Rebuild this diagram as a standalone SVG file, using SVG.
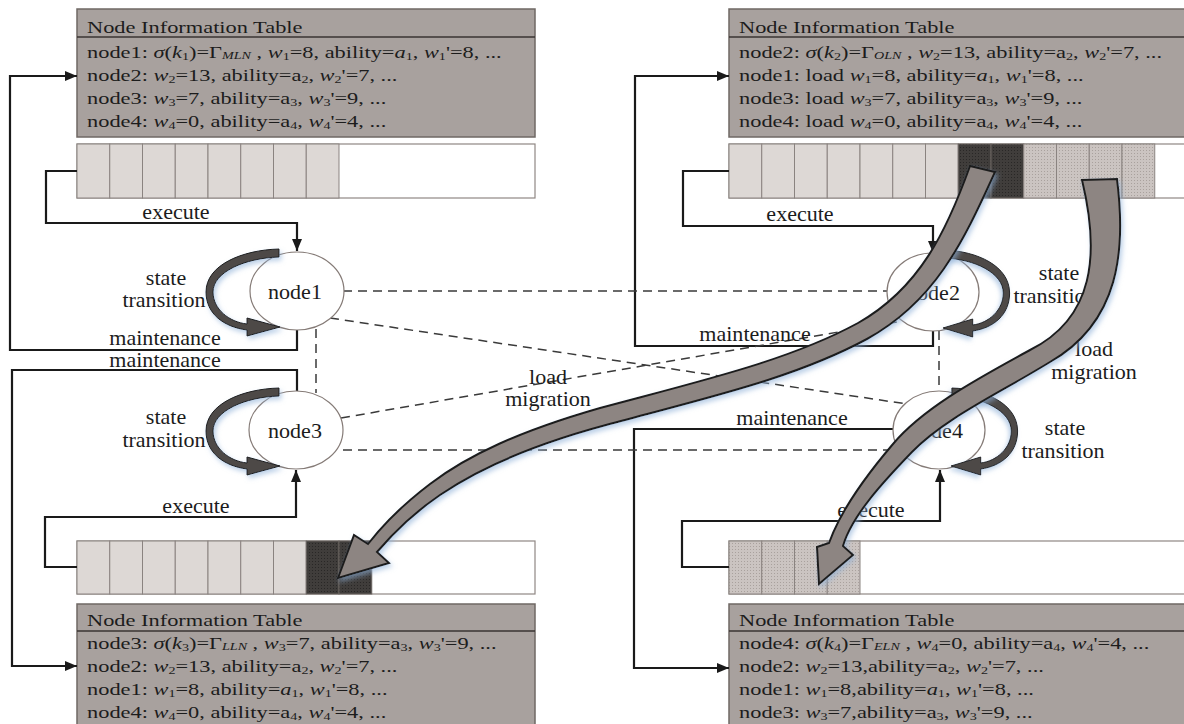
<svg xmlns="http://www.w3.org/2000/svg" width="1184" height="724" viewBox="0 0 1184 724">
<style>
.tt{font-family:"Liberation Serif","Times New Roman",serif;font-size:17.5px;fill:#1c1c1c}
.i{font-style:italic}
.s{font-size:11px}
.lb{font-family:"Liberation Serif","Times New Roman",serif;font-size:21px;fill:#1c1c1c;text-anchor:middle}
.tbl{fill:#a8a19e;stroke:#6f6864;stroke-width:1.5}
.hl{stroke:#3a3532;stroke-width:1.5}
.q{fill:#fff;stroke:#8f8784;stroke-width:1.2}
.cl{fill:#ddd8d5;stroke:#8a8380;stroke-width:1}
.cd{fill:url(#dk);stroke:#6a6461;stroke-width:1}
.cp{fill:url(#dt);stroke:#8a8380;stroke-width:1}
.con{fill:none;stroke:#1a1a1a;stroke-width:2.2}
.ds{fill:none;stroke:#3a3a3a;stroke-width:1.5;stroke-dasharray:9 6}
.nd{fill:#fff;stroke:#857b77;stroke-width:1.2}
.st{fill:#4d4947;stroke:#1e1e1e;stroke-width:1;filter:url(#sh)}
.mg{fill:#8d8582;stroke:#1e1e1e;stroke-width:2;filter:url(#sh)}
</style>
<defs>
<pattern id="dk" width="3" height="3" patternUnits="userSpaceOnUse"><rect width="3" height="3" fill="#403d3b"/><rect width="1" height="1" fill="#292726"/></pattern>
<pattern id="dt" width="3" height="3" patternUnits="userSpaceOnUse"><rect width="3" height="3" fill="#cbc4c1"/><rect width="1" height="1" fill="#a9a19d"/></pattern>
<marker id="ah" viewBox="0 0 12 10" refX="12" refY="5" markerWidth="12" markerHeight="10" markerUnits="userSpaceOnUse" orient="auto"><path d="M0,0 L12,5 L0,10 z" fill="#1a1a1a"/></marker>
<filter id="sh" x="-20%" y="-20%" width="140%" height="140%"><feDropShadow dx="2" dy="3" stdDeviation="2.5" flood-color="#8fb0d8" flood-opacity="0.6"/></filter>
<path id="cres" d="M279,249 C242,250 206,265 206,292 C206,314 224,327 247,330 L247,336 L280,327 L247,318 L247,324 C229,322 213,309 213,292 C213,272 245,258 279,257 Z"/>
</defs>
<rect width="1184" height="724" fill="#fff"/>

<g id="table1">
<rect class="tbl" x="77" y="9" width="458" height="128"/>
<line class="hl" x1="77" y1="37" x2="535" y2="37"/>
<text class="tt" transform="translate(87,33) scale(1.28,1)">Node Information Table</text>
<text class="tt" transform="translate(87,58) scale(1.28,1)">node1: <tspan class="i">σ</tspan>(<tspan class="i">k</tspan><tspan class="s" dy="2">1</tspan><tspan dy="-2">)=Γ</tspan><tspan class="s i" dy="1">MLN</tspan><tspan dy="-1"> , </tspan><tspan class="i">w</tspan><tspan class="s" dy="2">1</tspan><tspan dy="-2">=8, ability=</tspan><tspan class="i">a</tspan><tspan class="s" dy="2">1</tspan><tspan dy="-2">, </tspan><tspan class="i">w</tspan><tspan class="s" dy="2">1</tspan><tspan dy="-2">'=8, ...</tspan></text>
<text class="tt" transform="translate(87,81) scale(1.28,1)">node2: <tspan class="i">w</tspan><tspan class="s" dy="2">2</tspan><tspan dy="-2">=13, ability=a</tspan><tspan class="s" dy="2">2</tspan><tspan dy="-2">, </tspan><tspan class="i">w</tspan><tspan class="s" dy="2">2</tspan><tspan dy="-2">'=7, ...</tspan></text>
<text class="tt" transform="translate(87,104) scale(1.28,1)">node3: <tspan class="i">w</tspan><tspan class="s" dy="2">3</tspan><tspan dy="-2">=7, ability=a</tspan><tspan class="s" dy="2">3</tspan><tspan dy="-2">, </tspan><tspan class="i">w</tspan><tspan class="s" dy="2">3</tspan><tspan dy="-2">'=9, ...</tspan></text>
<text class="tt" transform="translate(87,127) scale(1.28,1)">node4: <tspan class="i">w</tspan><tspan class="s" dy="2">4</tspan><tspan dy="-2">=0, ability=a</tspan><tspan class="s" dy="2">4</tspan><tspan dy="-2">, </tspan><tspan class="i">w</tspan><tspan class="s" dy="2">4</tspan><tspan dy="-2">'=4, ...</tspan></text>
</g>

<g id="table2">
<rect class="tbl" x="729" y="9" width="458" height="128"/>
<line class="hl" x1="729" y1="37" x2="1187" y2="37"/>
<text class="tt" transform="translate(739,33) scale(1.28,1)">Node Information Table</text>
<text class="tt" transform="translate(739,58) scale(1.28,1)">node2: <tspan class="i">σ</tspan>(<tspan class="i">k</tspan><tspan class="s" dy="2">2</tspan><tspan dy="-2">)=Γ</tspan><tspan class="s i" dy="1">OLN</tspan><tspan dy="-1"> , </tspan><tspan class="i">w</tspan><tspan class="s" dy="2">2</tspan><tspan dy="-2">=13, ability=a</tspan><tspan class="s" dy="2">2</tspan><tspan dy="-2">, </tspan><tspan class="i">w</tspan><tspan class="s" dy="2">2</tspan><tspan dy="-2">'=7, ...</tspan></text>
<text class="tt" transform="translate(739,81) scale(1.28,1)">node1: load <tspan class="i">w</tspan><tspan class="s" dy="2">1</tspan><tspan dy="-2">=8, ability=</tspan><tspan class="i">a</tspan><tspan class="s" dy="2">1</tspan><tspan dy="-2">, </tspan><tspan class="i">w</tspan><tspan class="s" dy="2">1</tspan><tspan dy="-2">'=8, ...</tspan></text>
<text class="tt" transform="translate(739,104) scale(1.28,1)">node3: load <tspan class="i">w</tspan><tspan class="s" dy="2">3</tspan><tspan dy="-2">=7, ability=a</tspan><tspan class="s" dy="2">3</tspan><tspan dy="-2">, </tspan><tspan class="i">w</tspan><tspan class="s" dy="2">3</tspan><tspan dy="-2">'=9, ...</tspan></text>
<text class="tt" transform="translate(739,127) scale(1.28,1)">node4: load <tspan class="i">w</tspan><tspan class="s" dy="2">4</tspan><tspan dy="-2">=0, ability=a</tspan><tspan class="s" dy="2">4</tspan><tspan dy="-2">, </tspan><tspan class="i">w</tspan><tspan class="s" dy="2">4</tspan><tspan dy="-2">'=4, ...</tspan></text>
</g>

<g id="table3">
<rect class="tbl" x="77" y="604" width="458" height="130"/>
<line class="hl" x1="77" y1="631" x2="535" y2="631"/>
<text class="tt" transform="translate(87,626) scale(1.28,1)">Node Information Table</text>
<text class="tt" transform="translate(87,649) scale(1.28,1)">node3: <tspan class="i">σ</tspan>(<tspan class="i">k</tspan><tspan class="s" dy="2">3</tspan><tspan dy="-2">)=Γ</tspan><tspan class="s i" dy="1">LLN</tspan><tspan dy="-1"> ,  </tspan><tspan class="i">w</tspan><tspan class="s" dy="2">3</tspan><tspan dy="-2">=7, ability=a</tspan><tspan class="s" dy="2">3</tspan><tspan dy="-2">, </tspan><tspan class="i">w</tspan><tspan class="s" dy="2">3</tspan><tspan dy="-2">'=9, ...</tspan></text>
<text class="tt" transform="translate(87,672) scale(1.28,1)">node2: <tspan class="i">w</tspan><tspan class="s" dy="2">2</tspan><tspan dy="-2">=13, ability=a</tspan><tspan class="s" dy="2">2</tspan><tspan dy="-2">, </tspan><tspan class="i">w</tspan><tspan class="s" dy="2">2</tspan><tspan dy="-2">'=7, ...</tspan></text>
<text class="tt" transform="translate(87,695) scale(1.28,1)">node1: <tspan class="i">w</tspan><tspan class="s" dy="2">1</tspan><tspan dy="-2">=8, ability=</tspan><tspan class="i">a</tspan><tspan class="s" dy="2">1</tspan><tspan dy="-2">, </tspan><tspan class="i">w</tspan><tspan class="s" dy="2">1</tspan><tspan dy="-2">'=8, ...</tspan></text>
<text class="tt" transform="translate(87,718) scale(1.28,1)">node4: <tspan class="i">w</tspan><tspan class="s" dy="2">4</tspan><tspan dy="-2">=0, ability=a</tspan><tspan class="s" dy="2">4</tspan><tspan dy="-2">, </tspan><tspan class="i">w</tspan><tspan class="s" dy="2">4</tspan><tspan dy="-2">'=4, ...</tspan></text>
</g>

<g id="table4">
<rect class="tbl" x="729" y="604" width="458" height="130"/>
<line class="hl" x1="729" y1="631" x2="1187" y2="631"/>
<text class="tt" transform="translate(739,626) scale(1.28,1)">Node Information Table</text>
<text class="tt" transform="translate(739,649) scale(1.28,1)">node4: <tspan class="i">σ</tspan>(<tspan class="i">k</tspan><tspan class="s" dy="2">4</tspan><tspan dy="-2">)=Γ</tspan><tspan class="s i" dy="1">ELN</tspan><tspan dy="-1"> ,  </tspan><tspan class="i">w</tspan><tspan class="s" dy="2">4</tspan><tspan dy="-2">=0, ability=a</tspan><tspan class="s" dy="2">4</tspan><tspan dy="-2">, </tspan><tspan class="i">w</tspan><tspan class="s" dy="2">4</tspan><tspan dy="-2">'=4, ...</tspan></text>
<text class="tt" transform="translate(739,672) scale(1.28,1)">node2: <tspan class="i">w</tspan><tspan class="s" dy="2">2</tspan><tspan dy="-2">=13,ability=a</tspan><tspan class="s" dy="2">2</tspan><tspan dy="-2">, </tspan><tspan class="i">w</tspan><tspan class="s" dy="2">2</tspan><tspan dy="-2">'=7, ...</tspan></text>
<text class="tt" transform="translate(739,695) scale(1.28,1)">node1: <tspan class="i">w</tspan><tspan class="s" dy="2">1</tspan><tspan dy="-2">=8,ability=</tspan><tspan class="i">a</tspan><tspan class="s" dy="2">1</tspan><tspan dy="-2">, </tspan><tspan class="i">w</tspan><tspan class="s" dy="2">1</tspan><tspan dy="-2">'=8, ...</tspan></text>
<text class="tt" transform="translate(739,718) scale(1.28,1)">node3: <tspan class="i">w</tspan><tspan class="s" dy="2">3</tspan><tspan dy="-2">=7,ability=a</tspan><tspan class="s" dy="2">3</tspan><tspan dy="-2">, </tspan><tspan class="i">w</tspan><tspan class="s" dy="2">3</tspan><tspan dy="-2">'=9, ...</tspan></text>
</g>

<g id="queue1">
<rect class="q" x="77" y="144" width="458" height="54"/>
<rect class="cl" x="77" y="144" width="32.75" height="54"/><rect class="cl" x="109.75" y="144" width="32.75" height="54"/><rect class="cl" x="142.5" y="144" width="32.75" height="54"/><rect class="cl" x="175.25" y="144" width="32.75" height="54"/><rect class="cl" x="208" y="144" width="32.75" height="54"/><rect class="cl" x="240.75" y="144" width="32.75" height="54"/><rect class="cl" x="273.5" y="144" width="32.75" height="54"/><rect class="cl" x="306.25" y="144" width="32.75" height="54"/>
</g>
<g id="queue2">
<rect class="q" x="729" y="144" width="458" height="54"/>
<rect class="cl" x="729" y="144" width="32.75" height="54"/><rect class="cl" x="761.75" y="144" width="32.75" height="54"/><rect class="cl" x="794.5" y="144" width="32.75" height="54"/><rect class="cl" x="827.25" y="144" width="32.75" height="54"/><rect class="cl" x="860" y="144" width="32.75" height="54"/><rect class="cl" x="892.75" y="144" width="32.75" height="54"/><rect class="cl" x="925.5" y="144" width="32.75" height="54"/>
<rect class="cd" x="958.25" y="144" width="32.75" height="54"/><rect class="cd" x="991" y="144" width="32.75" height="54"/>
<rect class="cp" x="1023.75" y="144" width="32.75" height="54"/><rect class="cp" x="1056.5" y="144" width="32.75" height="54"/><rect class="cp" x="1089.25" y="144" width="32.75" height="54"/><rect class="cp" x="1122" y="144" width="32.75" height="54"/>
</g>
<g id="queue3">
<rect class="q" x="77" y="541" width="458" height="53"/>
<rect class="cl" x="77" y="541" width="32.75" height="53"/><rect class="cl" x="109.75" y="541" width="32.75" height="53"/><rect class="cl" x="142.5" y="541" width="32.75" height="53"/><rect class="cl" x="175.25" y="541" width="32.75" height="53"/><rect class="cl" x="208" y="541" width="32.75" height="53"/><rect class="cl" x="240.75" y="541" width="32.75" height="53"/><rect class="cl" x="273.5" y="541" width="32.75" height="53"/>
<rect class="cd" x="306.25" y="541" width="32.75" height="53"/><rect class="cd" x="339" y="541" width="32.75" height="53"/>
</g>
<g id="queue4">
<rect class="q" x="729" y="541" width="458" height="53"/>
<rect class="cp" x="729" y="541" width="32.75" height="53"/><rect class="cp" x="761.75" y="541" width="32.75" height="53"/><rect class="cp" x="794.5" y="541" width="32.75" height="53"/><rect class="cp" x="827.25" y="541" width="32.75" height="53"/>
</g>

<g id="connectors">
<path class="con" d="M77,171 H46 V223 H297 V251" marker-end="url(#ah)"/>
<path class="con" d="M297,330 V350 H10 V76 H77" marker-end="url(#ah)"/>
<path class="con" d="M297,391 V370 H12 V666 H77" marker-end="url(#ah)"/>
<path class="con" d="M77,567 H45 V517 H296 V470" marker-end="url(#ah)"/>
<path class="con" d="M729,171 H683 V226 H933 V253" marker-end="url(#ah)"/>
<path class="con" d="M933,331 V346 H635 V76 H729" marker-end="url(#ah)"/>
<path class="con" d="M893,429 H634 V668 H729" marker-end="url(#ah)"/>
<path class="con" d="M729,567 H682 V521 H940 V470" marker-end="url(#ah)"/>
<path class="ds" d="M343,291 H887"/>
<path class="ds" d="M330,318 L907,404"/>
<path class="ds" d="M341,418 L902,321"/>
<path class="ds" d="M343,450 H899"/>
<path class="ds" d="M316,329 V393"/>
<path class="ds" d="M939,331 V391"/>
<text class="lb" transform="translate(176,219) scale(1.05,1)">execute</text>
<text class="lb" transform="translate(800,221) scale(1.05,1)">execute</text>
<text class="lb" transform="translate(196,513) scale(1.05,1)">execute</text>
<text class="lb" transform="translate(871,517) scale(1.05,1)">execute</text>
<text class="lb" transform="translate(165,345) scale(1.05,1)">maintenance</text>
<text class="lb" transform="translate(165,367) scale(1.05,1)">maintenance</text>
<text class="lb" transform="translate(755,341) scale(1.05,1)">maintenance</text>
<text class="lb" transform="translate(792,425) scale(1.05,1)">maintenance</text>
<text class="lb" transform="translate(548,384) scale(1.05,1)">load</text>
<text class="lb" transform="translate(548,406) scale(1.05,1)">migration</text>
<text class="lb" transform="translate(1094,356) scale(1.05,1)">load</text>
<text class="lb" transform="translate(1094,379) scale(1.05,1)">migration</text>
</g>

<g id="node1">
<ellipse class="nd" cx="297" cy="291" rx="47" ry="39"/>
<text class="lb" transform="translate(295,299) scale(1.05,1)">node1</text>
<use href="#cres" class="st"/>
<text class="lb" transform="translate(166,285) scale(1.05,1)">state</text>
<text class="lb" transform="translate(164,307) scale(1.05,1)">transition</text>
</g>
<g id="node3">
<ellipse class="nd" cx="296" cy="430" rx="47" ry="39"/>
<text class="lb" transform="translate(295,438) scale(1.05,1)">node3</text>
<use href="#cres" class="st" transform="translate(0,139)"/>
<text class="lb" transform="translate(166,424) scale(1.05,1)">state</text>
<text class="lb" transform="translate(164,447) scale(1.05,1)">transition</text>
</g>
<g id="node2">
<ellipse class="nd" cx="933" cy="292" rx="46" ry="39"/>
<text class="lb" transform="translate(933,300) scale(1.05,1)">node2</text>
<use href="#cres" class="st" transform="matrix(-0.9,0,0,1,1195,1)"/>
<text class="lb" transform="translate(1059,280) scale(1.05,1)">state</text>
<text class="lb" transform="translate(1055,303) scale(1.05,1)">transition</text>
</g>
<g id="node4">
<ellipse class="nd" cx="939" cy="430" rx="46" ry="39"/>
<text class="lb" transform="translate(936,438) scale(1.05,1)">node4</text>
<use href="#cres" class="st" transform="matrix(-0.9,0,0,1,1203,139)"/>
<text class="lb" transform="translate(1065,435) scale(1.05,1)">state</text>
<text class="lb" transform="translate(1063,458) scale(1.05,1)">transition</text>
</g>

<g id="migrations">
<path class="mg" d="M970,166 C947,230 920,288 858,323 C788,361 700,381 600,408 C520,431 468,455 430,484 C405,503 385,522 368,544 L354,535 L338,578 L389,563 L377,552 C395,531 415,512 440,495 C478,469 528,446 606,425 C705,398 793,379 867,339 C934,302 962,245 995,172 Z"/>
<path class="mg" d="M1082,180 C1100,255 1094,318 1030,350 C983,376 925,406 893,444 C864,478 840,512 829,543 L817,547 L819,584 L853,555 L843,546 C852,515 885,480 912,452 C945,418 998,394 1050,362 C1120,322 1126,250 1117,179 Z"/>
</g>
</svg>
